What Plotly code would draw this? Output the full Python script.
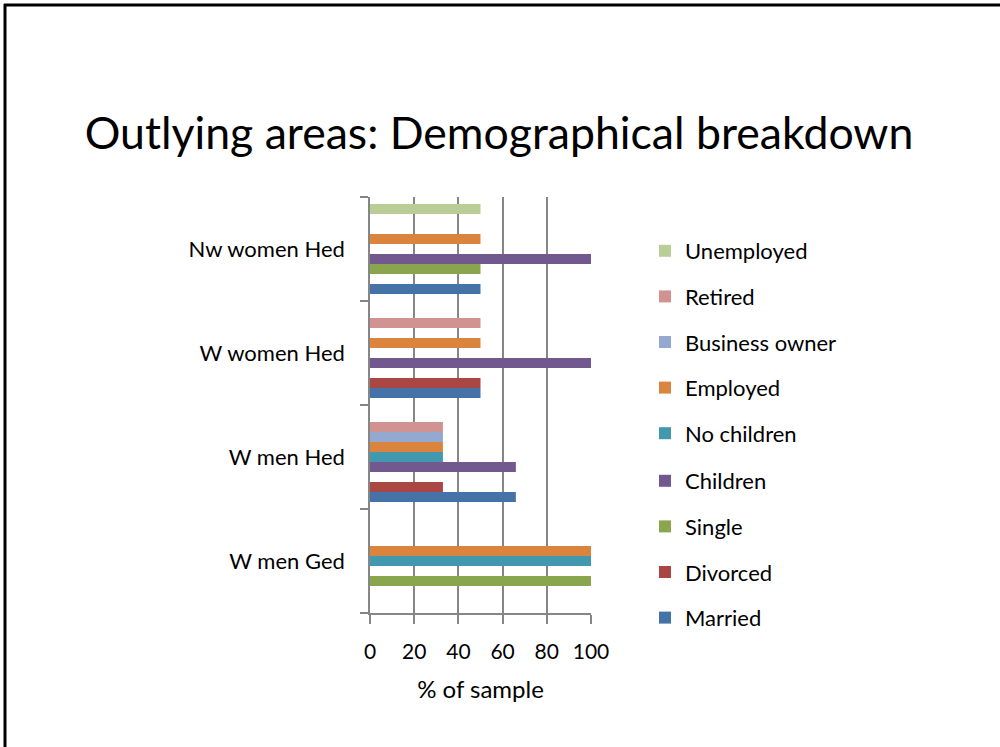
import plotly.graph_objects as go

# Groups shown on the category axis (bottom to top)
groups = ["W men Ged", "W men Hed", "W women Hed", "Nw women Hed"]

# Share of each group's sample (%) per attribute, in the same group order
married = [0, 66, 50, 50]
divorced = [0, 33, 50, 0]
single = [100, 0, 0, 50]
children = [0, 66, 100, 100]
no_children = [100, 33, 0, 0]
employed = [100, 33, 50, 50]
business_owner = [0, 33, 0, 0]
retired = [0, 33, 50, 0]
unemployed = [0, 0, 0, 50]

series = [
    ("Married", married, "#4572A7"),
    ("Divorced", divorced, "#AA4643"),
    ("Single", single, "#89A54E"),
    ("Children", children, "#71588F"),
    ("No children", no_children, "#4198AF"),
    ("Employed", employed, "#DB843D"),
    ("Business owner", business_owner, "#93A9CF"),
    ("Retired", retired, "#D19392"),
    ("Unemployed", unemployed, "#B9CD96"),
]

FONT = "Lato"
W, H = 1000, 747
ML, MR, MT, MB = 370, 409, 197, 134
PW, PH = W - ML - MR, H - MT - MB

LEGEND_TOP = 230   # px from top of page
LEGEND_STEP = 46   # px between legend rows
SPLIT = 4          # first four series go into the lower legend block

fig = go.Figure()
for i, (name, vals, color) in enumerate(series):
    fig.add_trace(go.Bar(
        y=groups, x=vals, name=name, orientation="h",
        marker=dict(color=color, line=dict(width=0)),
        legendgroup=name, legendrank=len(series) - i,
        legend="legend2" if i < SPLIT else "legend",
    ))

def px_x(p):
    return (p - ML) / PW

def px_y(p):
    return (H - MB - p) / PH

# Frame lines along the left and top edges of the page
border = [
    dict(x0=px_x(5), x1=px_x(5), y0=px_y(4), y1=px_y(747)),
    dict(x0=px_x(4), x1=px_x(1000), y0=px_y(5), y1=px_y(5)),
]
shapes = [dict(type="line", xref="paper", yref="paper", line=dict(color="black", width=3), **b)
          for b in border]

legend_style = dict(xref="container", x=645 / W, xanchor="left",
                    yref="container", yanchor="top",
                    traceorder="grouped", tracegroupgap=14,
                    font=dict(size=22), bgcolor="rgba(0,0,0,0)")
n_upper = len(series) - SPLIT

fig.update_layout(
    width=W, height=H,
    margin=dict(l=ML, r=MR, t=MT, b=MB, pad=0),
    paper_bgcolor="white", plot_bgcolor="white",
    font=dict(family=FONT, color="#000000", size=21),
    barmode="group", bargap=0.135, bargroupgap=0,
    title=dict(text="Outlying areas: Demographical breakdown",
               x=0.499, xanchor="center", y=1 - 133 / H, yanchor="middle",
               font=dict(family=FONT, size=44.6, color="#000000")),
    xaxis=dict(range=[0, 100], dtick=20, tick0=0,
               showgrid=True, gridcolor="#868686", gridwidth=1.5,
               showline=True, linecolor="#868686", linewidth=1.5,
               ticks="outside", ticklen=9, tickcolor="#868686", tickwidth=1.5,
               zeroline=False,
               tickfont=dict(size=21), ticklabelstandoff=10,
               title=dict(text="% of sample", font=dict(size=24), standoff=19)),
    yaxis=dict(categoryorder="array", categoryarray=groups,
               showline=True, linecolor="#868686", linewidth=1.5,
               ticks="outside", ticklen=8, tickcolor="#868686", tickwidth=1.5,
               tickson="boundaries", showgrid=False,
               tickfont=dict(size=22), ticklabelstandoff=19),
    legend=dict(y=1 - LEGEND_TOP / H, **legend_style),
    legend2=dict(y=1 - (LEGEND_TOP + n_upper * LEGEND_STEP) / H, **legend_style),
    shapes=shapes,
)

fig.write_html("out.html")
